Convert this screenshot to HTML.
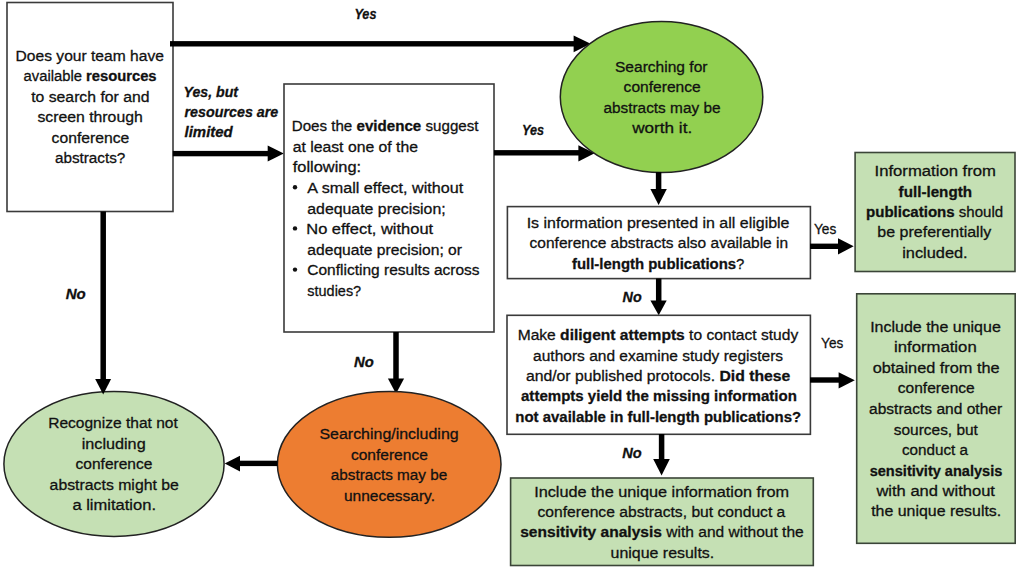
<!DOCTYPE html>
<html><head><meta charset="utf-8"><style>
html,body{margin:0;padding:0;background:#fff;width:1023px;height:571px;overflow:hidden}
svg{display:block}
text{font-family:"Liberation Sans",sans-serif;fill:#111;stroke:#111;stroke-width:0.3px}
</style></head><body>
<svg width="1023" height="571" viewBox="0 0 1023 571">
<rect x="7" y="2.5" width="166" height="209" fill="#fff" stroke="#3a3a3a" stroke-width="1.6"/>
<rect x="170" y="41.099999999999994" width="405" height="5.4" fill="#000"/>
<polygon points="573.6,35.4 590.7,43.8 573.6,52.2" fill="#000"/>
<rect x="172.8" y="150.9" width="96.19999999999999" height="5.4" fill="#000"/>
<polygon points="267.7,145.4 283.8,153.5 267.7,161.6" fill="#000"/>
<rect x="284" y="84" width="210" height="248" fill="#fff" stroke="#3a3a3a" stroke-width="1.6"/>
<circle cx="295" cy="187.20" r="2.2" fill="#111"/>
<circle cx="295" cy="228.40" r="2.2" fill="#111"/>
<circle cx="295" cy="269.60" r="2.2" fill="#111"/>
<rect x="494" y="150.10000000000002" width="86" height="5.4" fill="#000"/>
<polygon points="578.4,145.2 594.6,153.3 578.4,161.4" fill="#000"/>
<ellipse cx="661.55" cy="96.95" rx="101.25" ry="75.55" fill="#92D050" stroke="#222" stroke-width="1.5"/>
<rect x="655.85" y="172" width="5.5" height="18" fill="#000"/>
<polygon points="650.4,189 658.6,205 666.8,189" fill="#000"/>
<rect x="507.4" y="206.6" width="303" height="72" fill="#fff" stroke="#3a3a3a" stroke-width="1.6"/>
<rect x="810" y="243.60000000000002" width="30" height="5.4" fill="#000"/>
<polygon points="838,238.2 853.7,246.3 838,254.5" fill="#000"/>
<rect x="855.1" y="152.5" width="159.9" height="119" fill="#C5E0B4" stroke="#3b4538" stroke-width="1.6"/>
<rect x="655.95" y="278.5" width="5.5" height="22.5" fill="#000"/>
<polygon points="650.4,300.5 658.7,315.2 666.7,300.5" fill="#000"/>
<rect x="507" y="315.3" width="303.4" height="119" fill="#fff" stroke="#3a3a3a" stroke-width="1.6"/>
<rect x="810" y="377.3" width="30" height="5.4" fill="#000"/>
<polygon points="838.6,372.3 854.8,380.3 838.6,388.4" fill="#000"/>
<rect x="856.7" y="293.8" width="158.5" height="249.5" fill="#C5E0B4" stroke="#3b4538" stroke-width="1.6"/>
<rect x="658.85" y="434" width="5.5" height="26" fill="#000"/>
<polygon points="653.2,459 661.6,475.5 669.8,459" fill="#000"/>
<rect x="510.6" y="478" width="302.7" height="87.5" fill="#C5E0B4" stroke="#3b4538" stroke-width="1.6"/>
<rect x="393.25" y="332" width="5.5" height="48" fill="#000"/>
<polygon points="387.9,378.4 396,393.7 404.1,378.4" fill="#000"/>
<ellipse cx="389.2" cy="464.35" rx="111.8" ry="72.95" fill="#ED7D31" stroke="#222" stroke-width="1.5"/>
<rect x="239" y="460.7" width="38.5" height="5.4" fill="#000"/>
<polygon points="240,455.7 224.7,463.6 240,471.5" fill="#000"/>
<ellipse cx="114" cy="463.9" rx="110.1" ry="72.5" fill="#C5E0B4" stroke="#222" stroke-width="1.5"/>
<rect x="100.45" y="211.5" width="5.5" height="168.5" fill="#000"/>
<polygon points="95.2,379.1 103.2,394.4 111.1,379.1" fill="#000"/>
<text transform="translate(15.59,61.00) scale(1.0068,1.0)" font-size="15.5" >Does your team have</text>
<text transform="translate(23.60,81.40) scale(0.9540,1.0)" font-size="15.5" >available <tspan font-weight="bold">resources</tspan></text>
<text transform="translate(31.20,101.80) scale(1.0172,1.0)" font-size="15.5" >to search for and</text>
<text transform="translate(37.40,122.20) scale(1.0194,1.0)" font-size="15.5" >screen through</text>
<text transform="translate(51.60,142.60) scale(1.0132,1.0)" font-size="15.5" >conference</text>
<text transform="translate(54.90,163.00) scale(0.9859,1.0)" font-size="15.5" >abstracts?</text>
<text transform="translate(354.38,18.60) scale(0.8192,1.0)" font-size="15.5" font-weight="bold" font-style="italic">Yes</text>
<text transform="translate(183.59,96.50) scale(0.9133,1.0)" font-size="15.5" font-weight="bold" font-style="italic">Yes, but</text>
<text transform="translate(184.50,117.00) scale(0.9235,1.0)" font-size="15.5" font-weight="bold" font-style="italic">resources are</text>
<text transform="translate(184.50,137.00) scale(0.9667,1.0)" font-size="15.5" font-weight="bold" font-style="italic">limited</text>
<text transform="translate(522.08,135.00) scale(0.8154,1.0)" font-size="15.5" font-weight="bold" font-style="italic">Yes</text>
<text transform="translate(813.90,233.80) scale(0.8840,1.0)" font-size="15.5" >Yes</text>
<text transform="translate(622.60,302.00) scale(0.9238,1.0)" font-size="15.5" font-weight="bold" font-style="italic">No</text>
<text transform="translate(821.10,347.50) scale(0.8760,1.0)" font-size="15.5" >Yes</text>
<text transform="translate(622.20,458.30) scale(0.9429,1.0)" font-size="15.5" font-weight="bold" font-style="italic">No</text>
<text transform="translate(354.00,366.80) scale(0.9571,1.0)" font-size="15.5" font-weight="bold" font-style="italic">No</text>
<text transform="translate(65.70,299.30) scale(0.9714,1.0)" font-size="15.5" font-weight="bold" font-style="italic">No</text>
<text transform="translate(291.72,131.20) scale(0.9770,1.0)" font-size="15.5" >Does the <tspan font-weight="bold">evidence</tspan> suggest</text>
<text transform="translate(292.70,151.80) scale(1.0171,1.0)" font-size="15.5" >at least one of the</text>
<text transform="translate(292.70,172.40) scale(1.0594,1.0)" font-size="15.5" >following:</text>
<text transform="translate(307.30,193.00) scale(1.0427,1.0)" font-size="15.5" >A small effect, without</text>
<text transform="translate(307.30,213.60) scale(1.0231,1.0)" font-size="15.5" >adequate precision;</text>
<text transform="translate(306.24,234.20) scale(1.0630,1.0)" font-size="15.5" >No effect, without</text>
<text transform="translate(307.30,254.80) scale(1.0091,1.0)" font-size="15.5" >adequate precision; or</text>
<text transform="translate(307.30,275.40) scale(1.0000,1.0)" font-size="15.5" >Conflicting results across</text>
<text transform="translate(307.30,296.00) scale(0.9333,1.0)" font-size="15.5" >studies?</text>
<text transform="translate(615.00,71.50) scale(1.0044,1.0)" font-size="15.5" >Searching for</text>
<text transform="translate(623.60,92.00) scale(1.0053,1.0)" font-size="15.5" >conference</text>
<text transform="translate(603.40,112.50) scale(0.9924,1.0)" font-size="15.5" >abstracts may be</text>
<text transform="translate(632.20,133.00) scale(1.1057,1.0)" font-size="15.5" >worth it.</text>
<text transform="translate(526.67,227.80) scale(1.0311,1.0)" font-size="15.5" >Is information presented in all eligible</text>
<text transform="translate(529.60,248.30) scale(1.0000,1.0)" font-size="15.5" >conference abstracts also available in</text>
<text transform="translate(572.00,268.80) scale(0.9631,1.0)" font-size="15.5" ><tspan font-weight="bold">full-length publications</tspan>?</text>
<text transform="translate(874.52,176.20) scale(1.0766,1.0)" font-size="15.5" >Information from</text>
<text transform="translate(898.60,196.80) scale(0.9811,1.0)" font-size="15.5" ><tspan font-weight="bold">full-length</tspan></text>
<text transform="translate(866.03,217.00) scale(0.9714,1.0)" font-size="15.5" ><tspan font-weight="bold">publications</tspan> should</text>
<text transform="translate(877.37,237.40) scale(1.0327,1.0)" font-size="15.5" >be preferentially</text>
<text transform="translate(902.14,258.00) scale(1.0567,1.0)" font-size="15.5" >included.</text>
<text transform="translate(517.69,339.90) scale(1.0061,1.0)" font-size="15.5" >Make <tspan font-weight="bold">diligent attempts</tspan> to contact study</text>
<text transform="translate(533.10,360.50) scale(1.0012,1.0)" font-size="15.5" >authors and examine study registers</text>
<text transform="translate(525.90,381.00) scale(1.0169,1.0)" font-size="15.5" >and/or published protocols. <tspan font-weight="bold">Did these</tspan></text>
<text transform="translate(521.00,401.40) scale(0.9715,1.0)" font-size="15.5" ><tspan font-weight="bold">attempts yield the missing information</tspan></text>
<text transform="translate(515.33,421.70) scale(0.9658,1.0)" font-size="15.5" ><tspan font-weight="bold">not available in full-length publications?</tspan></text>
<text transform="translate(870.17,331.50) scale(1.0320,1.0)" font-size="15.5" >Include the unique</text>
<text transform="translate(894.02,352.00) scale(1.0787,1.0)" font-size="15.5" >information</text>
<text transform="translate(872.70,372.50) scale(1.0525,1.0)" font-size="15.5" >obtained from the</text>
<text transform="translate(897.80,393.00) scale(1.0039,1.0)" font-size="15.5" >conference</text>
<text transform="translate(869.00,413.50) scale(1.0045,1.0)" font-size="15.5" >abstracts and other</text>
<text transform="translate(893.80,434.50) scale(0.9965,1.0)" font-size="15.5" >sources, but</text>
<text transform="translate(902.00,455.00) scale(0.9838,1.0)" font-size="15.5" >conduct a</text>
<text transform="translate(869.70,475.60) scale(0.9397,1.0)" font-size="15.5" ><tspan font-weight="bold">sensitivity analysis</tspan></text>
<text transform="translate(876.40,496.00) scale(1.0676,1.0)" font-size="15.5" >with and without</text>
<text transform="translate(871.20,516.30) scale(1.0270,1.0)" font-size="15.5" >the unique results.</text>
<text transform="translate(534.15,497.00) scale(1.0506,1.0)" font-size="15.5" >Include the unique information from</text>
<text transform="translate(537.50,517.20) scale(1.0102,1.0)" font-size="15.5" >conference abstracts, but conduct a</text>
<text transform="translate(520.20,537.40) scale(1.0043,1.0)" font-size="15.5" ><tspan font-weight="bold">sensitivity analysis</tspan> with and without the</text>
<text transform="translate(610.57,557.60) scale(1.0283,1.0)" font-size="15.5" >unique results.</text>
<text transform="translate(319.47,438.90) scale(1.0291,1.0)" font-size="15.5" >Searching/including</text>
<text transform="translate(350.90,459.50) scale(1.0039,1.0)" font-size="15.5" >conference</text>
<text transform="translate(330.80,480.30) scale(0.9873,1.0)" font-size="15.5" >abstracts may be</text>
<text transform="translate(343.90,500.90) scale(1.0011,1.0)" font-size="15.5" >unnecessary.</text>
<text transform="translate(48.20,428.30) scale(1.0031,1.0)" font-size="15.5" >Recognize that not</text>
<text transform="translate(81.65,448.80) scale(1.0467,1.0)" font-size="15.5" >including</text>
<text transform="translate(75.60,469.30) scale(1.0013,1.0)" font-size="15.5" >conference</text>
<text transform="translate(49.60,489.80) scale(1.0214,1.0)" font-size="15.5" >abstracts might be</text>
<text transform="translate(72.40,510.20) scale(1.0675,1.0)" font-size="15.5" >a limitation.</text>
</svg>
</body></html>
